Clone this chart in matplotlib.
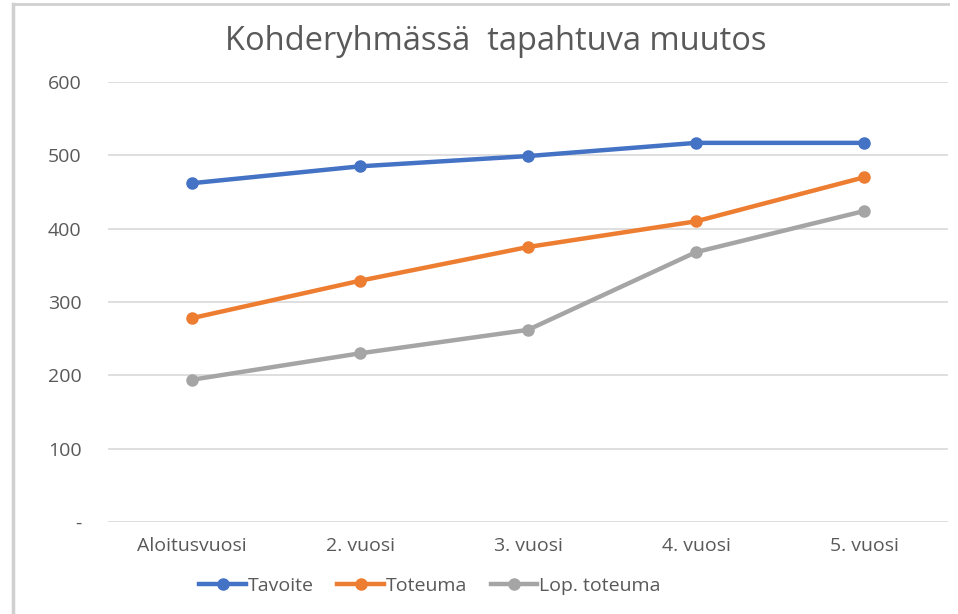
import matplotlib.pyplot as plt
from matplotlib.lines import Line2D

categories = ["Aloitusvuosi", "2. vuosi", "3. vuosi", "4. vuosi", "5. vuosi"]
tavoite = [462, 485, 499, 517, 517]
toteuma = [278, 329, 375, 410, 470]
lop_toteuma = [194, 230, 262, 368, 424]
yticks = [0, 100, 200, 300, 400, 500, 600]
ytick_labels = ["-", "100", "200", "300", "400", "500", "600"]

plt.rcParams['font.family'] = ['Open Sans', 'DejaVu Sans']
text_col = "#595959"

fig = plt.figure(figsize=(9.58, 6.14), dpi=100)
ax = fig.add_axes([108 / 958, 1 - 522 / 614, 840 / 958, 440 / 614])

x = range(len(categories))
series = [
    (tavoite, "#4472C4", "Tavoite"),
    (toteuma, "#ED7D31", "Toteuma"),
    (lop_toteuma, "#A5A5A5", "Lop. toteuma"),
]
for vals, col, lab in series:
    ax.plot(x, vals, color=col, lw=3.2, marker="o", ms=8, label=lab,
            solid_capstyle="round", zorder=3)

ax.set_xlim(-0.5, len(categories) - 0.5)
ax.set_ylim(0, 600)
ax.set_yticks(yticks)
ax.set_yticklabels(ytick_labels)
ax.set_xticks(list(x))
ax.set_xticklabels(categories)
ax.grid(axis="y", color="#D9D9D9", lw=1.2)
ax.set_axisbelow(True)
for s in ax.spines.values():
    s.set_visible(False)
ax.tick_params(length=0, colors=text_col, labelsize=14)
ax.tick_params(axis="y", pad=19)
ax.tick_params(axis="x", pad=11)

fig.text(496 / 958, 1 - 42 / 614, "Kohderyhmässä  tapahtuva muutos", ha="center",
         va="center", fontsize=23.5, color=text_col)

handles = [Line2D([0], [0], color=c, lw=3.2, marker="o", ms=8) for _, c, _ in series]
fig.legend(handles, [l for _, _, l in series], loc="center",
           bbox_to_anchor=(430 / 958, 1 - 586 / 614), ncol=3, frameon=False,
           fontsize=14, labelcolor=text_col, handlelength=2.4, handletextpad=0.1,
           columnspacing=1.2)

# outer frame lines on left and top
fig.add_artist(Line2D([13 / 958, 13 / 958], [0, 1 - 4 / 614], color="#D0D0D0", lw=2.5))
fig.add_artist(Line2D([13 / 958, 948 / 958], [1 - 4 / 614, 1 - 4 / 614], color="#D0D0D0", lw=2))

fig.savefig("out.png", dpi=100)
